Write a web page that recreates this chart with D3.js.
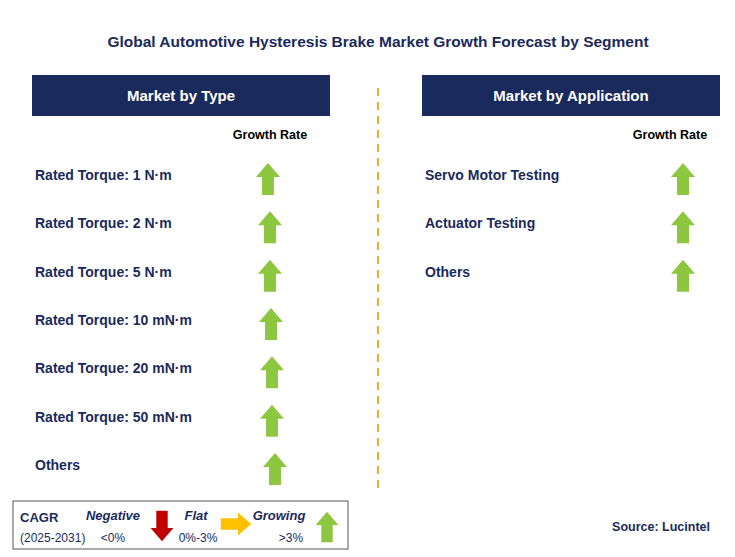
<!DOCTYPE html>
<html><head><meta charset="utf-8">
<script src="https://cdn.jsdelivr.net/npm/d3@7"></script>
<style>body{margin:0;background:#fff}</style></head>
<body><svg id="c" width="735" height="557"></svg>
<script>
const typeSegments = ["Rated Torque: 1 N·m","Rated Torque: 2 N·m","Rated Torque: 5 N·m","Rated Torque: 10 mN·m","Rated Torque: 20 mN·m","Rated Torque: 50 mN·m","Others"];
const typeArrowX = [268,270,270,271,272,272,275];
const appSegments = ["Servo Motor Testing","Actuator Testing","Others"];
const appArrowX = [683,683,683];

const svg = d3.select("#c");
const navy = "#1b2a5c", green = "#8dc63f";
const font = "Arial, 'Liberation Sans', sans-serif";

svg.append("text").attr("x",378).attr("y",47).attr("text-anchor","middle")
  .attr("font-family",font).attr("font-weight","bold").attr("font-size",15.5).attr("fill",navy)
  .text("Global Automotive Hysteresis Brake Market Growth Forecast by Segment");

svg.append("line").attr("x1",378).attr("x2",378).attr("y1",88).attr("y2",490)
  .attr("stroke","#f2b02a").attr("stroke-width",2).attr("stroke-dasharray","8,6");

const y = d3.scalePoint().domain(d3.range(7)).range([175,465]);

function arrow(g, cx, cy, s, color, dir) {
  // up arrow, rotated for the other directions
  const p = [[0,-16],[12,-2],[6,-2],[6,16],[-6,16],[-6,-2],[-12,-2]];
  const rot = {up:0, down:180, right:90}[dir];
  g.append("path").attr("d", d3.line()(p.map(d=>[d[0]*s,d[1]*s])) + "Z")
    .attr("transform", `translate(${cx},${cy}) rotate(${rot})`).attr("fill", color);
}

function panel(x0, w, title, segs, ax, grX) {
  svg.append("rect").attr("x",x0).attr("y",75).attr("width",w).attr("height",41).attr("fill",navy);
  svg.append("text").attr("x",x0+w/2).attr("y",101).attr("text-anchor","middle")
    .attr("font-family",font).attr("font-weight","bold").attr("font-size",15).attr("fill","#fff").text(title);
  svg.append("text").attr("x",grX).attr("y",139).attr("text-anchor","middle")
    .attr("font-family",font).attr("font-weight","bold").attr("font-size",12.5).attr("fill","#000").text("Growth Rate");
  segs.forEach((s,i)=>{
    svg.append("text").attr("x",x0+3).attr("y",y(i)+5).attr("font-family",font).attr("font-weight","bold")
      .attr("font-size",14).attr("fill",navy).text(s);
    arrow(svg, ax[i], y(i)+4, 1, green, "up");
  });
}
panel(32, 298, "Market by Type", typeSegments, typeArrowX, 270);
panel(422, 298, "Market by Application", appSegments, appArrowX, 670);

// legend
const lg = svg.append("g");
lg.append("rect").attr("x",13).attr("y",501).attr("width",335).attr("height",48).attr("fill","#fff").attr("stroke","#555").attr("stroke-width",1);
const t = (x,yy,txt,o)=>lg.append("text").attr("x",x).attr("y",yy).attr("font-family",font)
  .attr("font-size",o.size||12).attr("font-weight",o.bold?"bold":"normal").attr("font-style",o.it?"italic":"normal")
  .attr("fill",o.fill||navy).attr("text-anchor",o.anchor||"start").text(txt);
t(20,522,"CAGR",{bold:true,size:13});
t(20,542,"(2025-2031)",{size:12});
t(113,520,"Negative",{bold:true,it:true,size:13,anchor:"middle"});
t(113,542,"<0%",{size:12,anchor:"middle"});
arrow(lg,162,526,0.95,"#c00000","down");
t(196,520,"Flat",{bold:true,it:true,size:13,anchor:"middle"});
t(198,542,"0%-3%",{size:12,anchor:"middle"});
arrow(lg,236,524,0.95,"#ffc000","right");
t(279,520,"Growing",{bold:true,it:true,size:13,anchor:"middle"});
t(291,542,">3%",{size:12,anchor:"middle"});
arrow(lg,327,527,0.95,green,"up");

svg.append("text").attr("x",710).attr("y",531).attr("text-anchor","end")
  .attr("font-family",font).attr("font-weight","bold").attr("font-size",12.5).attr("fill",navy).text("Source: Lucintel");
</script></body></html>
